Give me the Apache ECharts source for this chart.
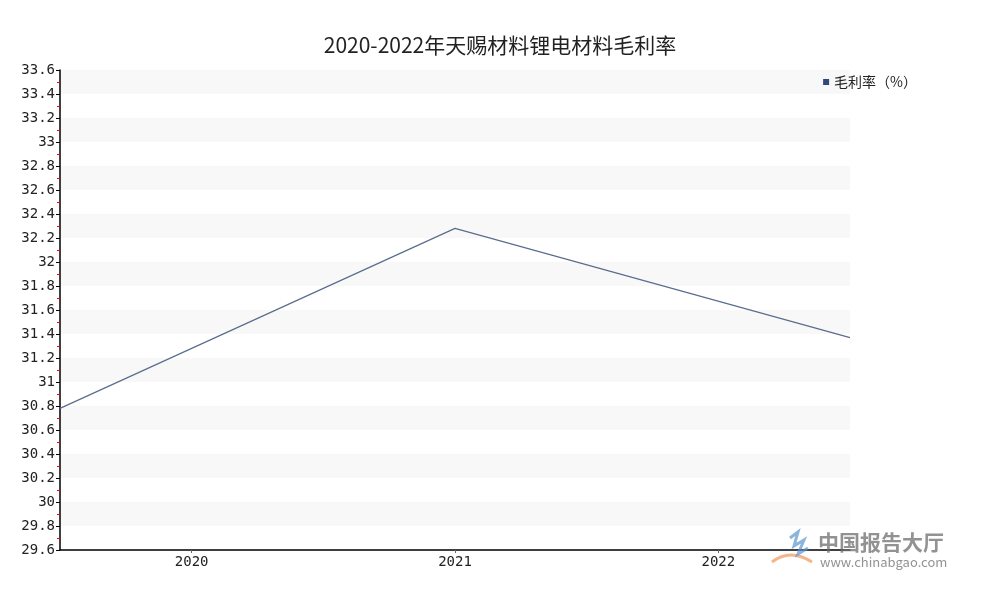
<!DOCTYPE html>
<html><head><meta charset="utf-8">
<script src="https://cdn.jsdelivr.net/npm/echarts@6/dist/echarts.min.js"></script>
<style>html,body{margin:0;padding:0;background:#fff}#c{width:1000px;height:600px}</style>
</head><body><div id="c"></div>
<script>
var categories = ['2020', '2021', '2022'];
var grossMargin = [30.78, 32.28, 31.37];
var seriesName = '毛利率（%）';
var titleText = '2020-2022年天赐材料锂电材料毛利率';

var chart = echarts.init(document.getElementById('c'));
var font = '"Noto Sans CJK SC", "Noto Sans", sans-serif';
var mono = '"DejaVu Sans Mono", "Noto Sans CJK SC", monospace';
chart.setOption({
  animation: false,
  textStyle: { fontFamily: font },
  title: { text: titleText, left: 'center', top: 30, textStyle: { fontSize: 21, fontWeight: 'normal', color: '#222', fontFamily: font } },
  legend: {
    data: [{ name: seriesName, icon: 'rect' }],
    right: 78, top: 70, itemWidth: 6, itemHeight: 6, itemGap: 4,
    textStyle: { fontSize: 14, color: '#222', fontFamily: font }
  },
  grid: { left: 60, right: 150, top: 70, bottom: 50 },
  xAxis: [{
    type: 'category', data: categories, boundaryGap: true,
    axisLine: { lineStyle: { color: '#000', width: 1.5 } },
    axisTick: { show: true, alignWithLabel: true, length: 3, lineStyle: { color: '#666' } },
    axisLabel: { color: '#222', fontSize: 14, margin: 5, interval: 0, fontFamily: mono },
    splitLine: { show: false }
  }, {
    type: 'category', data: categories, boundaryGap: false, show: false
  }],
  yAxis: {
    type: 'value', min: 29.6, max: 33.6, interval: 0.2,
    axisLine: { show: true, lineStyle: { color: '#000', width: 1.5 } },
    axisTick: { show: true, length: 4, lineStyle: { color: '#000' } },
    minorTick: { show: true, splitNumber: 2, length: 3, lineStyle: { color: '#ff0000' } },
    axisLabel: { color: '#222', fontSize: 14, margin: 5, fontFamily: mono, formatter: function (v) { return String(+v.toFixed(1)); } },
    splitLine: { show: false },
    splitArea: { show: true, areaStyle: { color: ['#ffffff', '#f8f8f8'] } }
  },
  series: [{
    name: seriesName, type: 'line', xAxisIndex: 1, data: grossMargin,
    symbol: 'none', itemStyle: { color: '#2f4a7a' },
    lineStyle: { color: '#5a6d8f', width: 1.2 }
  }],
  graphic: [
    { type: 'text', left: 818, top: 532, z: 100, style: { text: '中国报告大厅', fill: 'rgba(110,110,110,0.75)', font: 'bold 21px ' + font } },
    { type: 'text', left: 820, top: 556, z: 100, style: { text: 'www.chinabgao.com', fill: 'rgba(110,110,110,0.75)', font: '13px ' + font } },
    { type: 'bezierCurve', z: 100, shape: { x1: 772, y1: 562, x2: 812, y2: 562, cpx1: 790, cpy1: 548 },
      style: { stroke: 'rgba(240,150,90,0.7)', lineWidth: 3, fill: null } },
    { type: 'polyline', z: 100, shape: { points: [[790, 538], [798, 532], [794, 546], [804, 540], [798, 554], [808, 548]] },
      style: { stroke: 'rgba(90,150,210,0.7)', lineWidth: 3, fill: null } }
  ]
});
</script></body></html>
